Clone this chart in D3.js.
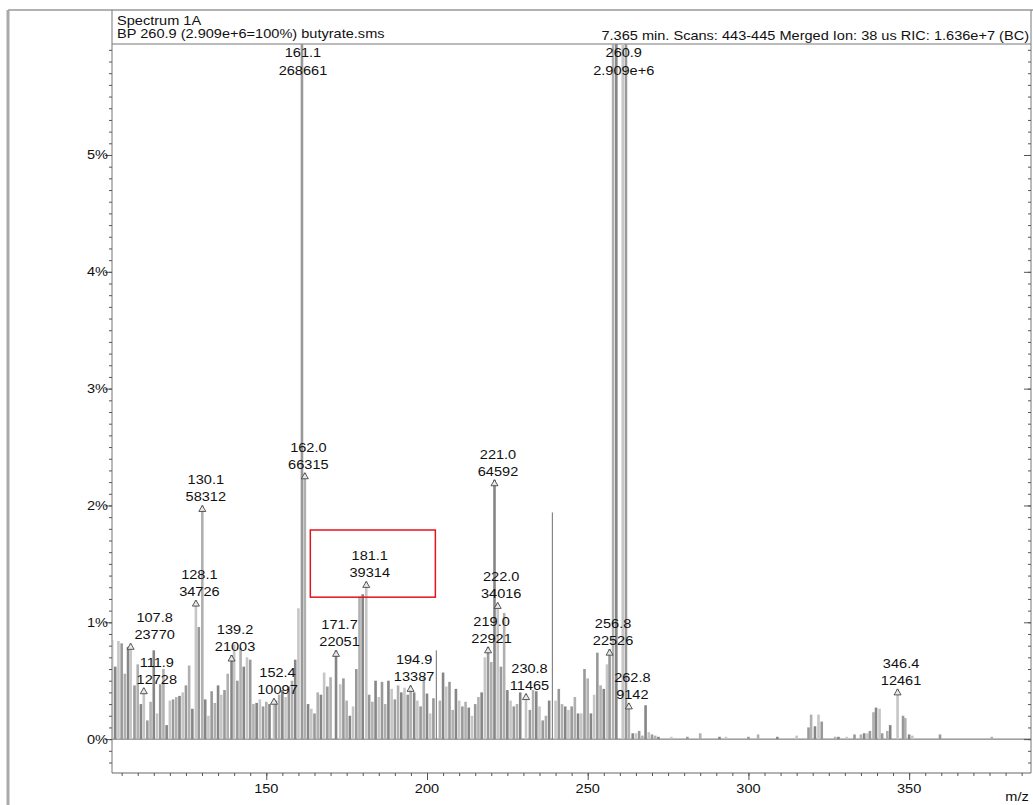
<!DOCTYPE html>
<html>
<head>
<meta charset="utf-8">
<script src="https://cdn.jsdelivr.net/npm/d3@7"></script>
<style>
body { margin: 0; background: #fff; }
svg text { font-family: "Liberation Sans", Arial, sans-serif; font-size: 13px; fill: #111; }
</style>
</head>
<body>
<script>
var width = 1033;
var height = 805;

// spectrum bars: m/z and height in % of base peak (260.9)
var mz = [102, 103, 104, 105, 106, 107, 107.8, 109, 110, 111, 111.9, 113, 114, 115, 116, 117, 118, 119, 120,
  121, 122, 123, 124, 125, 126, 127, 128.1, 129, 130.1, 131, 132, 133, 134, 135, 136, 137, 138, 139.2, 140,
  141, 142, 143, 144, 145, 146, 147, 148, 149, 150, 151, 152.4, 153, 154, 155, 156, 157, 158, 159, 160,
  161.1, 162.0, 163, 164, 165, 166, 167, 168, 169, 170, 171.7, 173, 174, 175, 176, 177, 178, 179, 180,
  181.1, 182, 183, 184, 185, 186, 187, 188, 189, 190, 191, 192, 193, 194, 194.9, 196, 197, 198, 199, 200,
  201, 202, 204, 205, 206, 207, 208, 209, 210, 211, 212, 213, 214, 215, 216, 217, 218, 219.0, 220,
  221.0, 222.0, 223, 224, 225, 226, 227, 228, 229, 230.8, 232, 233, 234, 235, 236, 237, 238, 240,
  241, 242, 243, 244, 245, 246, 247, 248, 249, 250, 251, 252, 253, 254, 255, 256, 256.8, 257.9, 258.9,
  260.9, 261.9, 262.8, 264, 265, 266, 267, 268, 269, 270, 271, 272, 276, 281, 285, 291, 293, 300, 303,
  309, 315, 318.7, 319.5, 320.7, 321.8, 322.8, 327, 328, 330.6, 333, 335, 336, 337, 337.8, 338.9, 339.7,
  340.8, 341.6, 343.2, 344.1, 346.4, 348.1, 348.8, 350, 351, 359.6, 375.7];
var pct = [0.85, 0.62, 0.84, 0.82, 0.56, 0.79, 0.82, 0.46, 0.64, 0.30, 0.44, 0.16, 0.32, 0.76, 0.22, 0.47, 0.60, 0.12, 0.33,
  0.34, 0.36, 0.37, 0.40, 0.46, 0.63, 0.26, 1.19, 0.96, 2.00, 0.34, 0.20, 0.41, 0.31, 0.46, 0.38, 0.42, 0.56, 0.72, 0.81,
  0.50, 0.78, 0.62, 0.70, 0.68, 0.30, 0.31, 0.34, 0.28, 0.32, 0.30, 0.35, 0.33, 0.38, 0.42, 0.36, 0.45, 0.50, 0.68, 1.12,
  9.24, 2.28, 0.30, 0.26, 0.22, 0.40, 0.38, 0.57, 0.45, 0.53, 0.76, 0.47, 0.52, 0.33, 0.20, 0.28, 0.60, 1.22, 1.24,
  1.35, 0.38, 0.32, 0.50, 0.36, 0.49, 0.30, 0.50, 0.43, 0.34, 0.46, 0.40, 0.44, 0.38, 0.46, 0.40, 0.33, 0.28, 0.53, 0.39,
  0.22, 0.35, 0.33, 0.57, 0.45, 0.49, 0.25, 0.43, 0.33, 0.28, 0.32, 0.27, 0.20, 0.30, 0.36, 0.40, 0.70, 0.79, 0.66,
  2.22, 1.17, 0.62, 1.08, 0.42, 0.33, 0.28, 0.30, 0.40, 0.39, 0.25, 0.42, 0.41, 0.28, 0.16, 0.20, 0.33, 0.33,
  0.43, 0.30, 0.28, 0.25, 0.28, 0.36, 0.22, 0.22, 0.60, 0.52, 0.22, 0.38, 0.74, 0.46, 0.43, 0.64, 0.77, 7.5, 12,
  100, 15, 0.31, 0.05, 0.05, 0.07, 0.03, 0.29, 0.06, 0.04, 0.03, 0.02, 0.02, 0.02, 0.05, 0.02, 0.02, 0.02, 0.04,
  0.02, 0.03, 0.10, 0.21, 0.11, 0.21, 0.15, 0.02, 0.02, 0.02, 0.04, 0.04, 0.05, 0.05, 0.07, 0.23, 0.27,
  0.26, 0.05, 0.07, 0.12, 0.43, 0.20, 0.18, 0.04, 0.03, 0.04, 0.02];

// the two thin single lines
var thinMz = [202.9, 239.0];
var thinPct = [0.76, 1.94];

// peak labels
var labelMz = [107.8, 111.9, 128.1, 130.1, 139.2, 152.4, 161.1, 162.0, 171.7, 181.1, 194.9, 219.0, 221.0, 222.0, 230.8, 256.8, 260.9, 262.8, 346.4];
var labelInt = ['23770', '12728', '34726', '58312', '21003', '10097', '268661', '66315', '22051', '39314', '13387', '22921', '64592', '34016', '11465', '22526', '2.909e+6', '9142', '12461'];
var labelPct = [0.82, 0.44, 1.19, 2.00, 0.72, 0.35, 9.24, 2.28, 0.76, 1.35, 0.46, 0.79, 2.22, 1.17, 0.39, 0.77, 100, 0.31, 0.43];

var yMajor = [0, 1, 2, 3, 4, 5];
var xMajor = [150, 200, 250, 300, 350];

var headerLeft = ['Spectrum 1A', 'BP 260.9 (2.909e+6=100%) butyrate.sms'];
var headerRight = '7.365 min. Scans: 443-445 Merged Ion: 38 us RIC: 1.636e+7 (BC)';

// red box around 181.1 (m/z range, % range)
var boxMz = [163.7, 202.6];
var boxPct = [1.79, 1.215];

// plot edges (plotTop, not "top": that one is taken by window.top)
var plotLeft = 112, plotRight = 1031, plotTop = 44, plotBottom = 773;

var x = d3.scaleLinear().domain([102, 387.6]).range([plotLeft, 1030]);
var y = d3.scaleLinear().domain([-0.29, 5.95]).range([plotBottom, plotTop]);

var svg = d3.select('body').append('svg')
  .attr('width', width)
  .attr('height', height);

// text in the original is a little wider, stretch it
function txt(g, tx, ty, s, anchor) {
  return g.append('text')
    .attr('transform', 'translate(' + tx + ',' + ty + ') scale(1.12,1)')
    .attr('text-anchor', anchor || 'middle')
    .text(s);
}

// frame
svg.append('line').attr('x1', 8).attr('x2', width).attr('y1', 10).attr('y2', 10)
  .attr('stroke', '#999').attr('stroke-width', 1.5);
svg.append('line').attr('x1', 8).attr('x2', 8).attr('y1', 10).attr('y2', height)
  .attr('stroke', '#aaa').attr('stroke-width', 3);
svg.append('line').attr('x1', plotLeft).attr('x2', plotLeft).attr('y1', 10).attr('y2', plotBottom)
  .attr('stroke', '#777');
svg.append('line').attr('x1', plotRight).attr('x2', plotRight).attr('y1', 10).attr('y2', plotBottom)
  .attr('stroke', '#777');
svg.append('line').attr('x1', plotLeft).attr('x2', plotRight).attr('y1', plotTop).attr('y2', plotTop)
  .attr('stroke', '#777');

// header
txt(svg, 117, 25, headerLeft[0], 'start');
txt(svg, 117, 38, headerLeft[1], 'start');
txt(svg, 1029, 40, headerRight, 'end');

svg.append('clipPath').attr('id', 'clip')
  .append('rect').attr('x', plotLeft).attr('y', plotTop)
  .attr('width', plotRight - plotLeft).attr('height', plotBottom - plotTop);

var plot = svg.append('g').attr('clip-path', 'url(#clip)');

// zero line
plot.append('line').attr('x1', plotLeft).attr('x2', plotRight).attr('y1', y(0)).attr('y2', y(0))
  .attr('stroke', '#666');

var shades = ['#b0b0b0', '#868686', '#c6c6c6', '#999999'];
plot.selectAll('rect.bar')
  .data(d3.range(mz.length))
  .enter().append('rect')
  .attr('class', 'bar')
  .attr('x', function(i) { return x(mz[i]) - 1.3; })
  .attr('width', 2.6)
  .attr('y', function(i) { return y(pct[i]); })
  .attr('height', function(i) { return y(0) - y(pct[i]); })
  .attr('fill', function(i) { return shades[i % 4]; });

plot.selectAll('line.thin')
  .data(d3.range(thinMz.length))
  .enter().append('line')
  .attr('class', 'thin')
  .attr('x1', function(i) { return x(thinMz[i]); })
  .attr('x2', function(i) { return x(thinMz[i]); })
  .attr('y1', function(i) { return y(thinPct[i]); })
  .attr('y2', y(0))
  .attr('stroke', '#6f6f6f').attr('stroke-width', 1);

// labels + little triangles
// the two leftmost labels were pushed right off the axis in the original
var nudge = { '107.8': 24, '111.9': 13 };
labelMz.forEach(function(m, i) {
  var cx = x(m);
  var key = m.toFixed(1);
  var lx = cx + (nudge[key] !== undefined ? nudge[key] : 3.5);
  if (labelPct[i] > 5.9) {
    // off-scale peaks get their labels at the top
    txt(svg, cx + 1, 57, key);
    txt(svg, cx + 1, 75, labelInt[i]);
    return;
  }
  var ty = y(labelPct[i]);
  svg.append('path')
    .attr('d', 'M' + (cx - 3.5) + ',' + (ty + 6) + 'L' + (cx + 3.5) + ',' + (ty + 6) + 'L' + cx + ',' + ty + 'Z')
    .attr('fill', '#e8e8e8').attr('stroke', '#333').attr('stroke-width', 0.8);
  txt(svg, lx, ty - 21, key);
  txt(svg, lx, ty - 4, labelInt[i]);
});

// red box
svg.append('rect')
  .attr('x', x(boxMz[0])).attr('y', y(boxPct[0]))
  .attr('width', x(boxMz[1]) - x(boxMz[0]))
  .attr('height', y(boxPct[1]) - y(boxPct[0]))
  .attr('fill', 'none').attr('stroke', '#e3141c').attr('stroke-width', 1.5);

// axes
var minorY = d3.range(-2, 60).map(function(v) { return v / 10; });
var minorX = d3.range(21, 78).map(function(v) { return v * 5; });

function styleAxis(g) {
  g.select('.domain').remove();
  g.selectAll('line').attr('stroke', '#555');
}

svg.append('g').attr('transform', 'translate(' + plotLeft + ',0)')
  .call(d3.axisLeft(y).tickValues(minorY).tickSize(3).tickFormat(''))
  .call(styleAxis);
svg.append('g').attr('transform', 'translate(' + plotLeft + ',0)')
  .call(d3.axisLeft(y).tickValues(yMajor).tickSize(7).tickFormat(''))
  .call(styleAxis);
svg.append('g').attr('transform', 'translate(' + plotRight + ',0)')
  .call(d3.axisRight(y).tickValues(minorY).tickSize(-3).tickFormat(''))
  .call(styleAxis);
svg.append('g').attr('transform', 'translate(' + plotRight + ',0)')
  .call(d3.axisRight(y).tickValues(yMajor).tickSize(-7).tickFormat(''))
  .call(styleAxis);

svg.append('line').attr('x1', plotLeft).attr('x2', plotRight).attr('y1', plotBottom).attr('y2', plotBottom)
  .attr('stroke', '#666');
svg.append('g').attr('transform', 'translate(0,' + plotBottom + ')')
  .call(d3.axisBottom(x).tickValues(minorX).tickSize(3).tickFormat(''))
  .call(styleAxis);
svg.append('g').attr('transform', 'translate(0,' + plotBottom + ')')
  .call(d3.axisBottom(x).tickValues(xMajor).tickSize(7).tickFormat(''))
  .call(styleAxis);

yMajor.forEach(function(v) {
  txt(svg, plotLeft - 4, y(v) + 4.5, v + '%', 'end');
});
xMajor.forEach(function(v) {
  txt(svg, x(v), 793, String(v));
});
txt(svg, 1017, 801, 'm/z');
</script>
</body>
</html>
